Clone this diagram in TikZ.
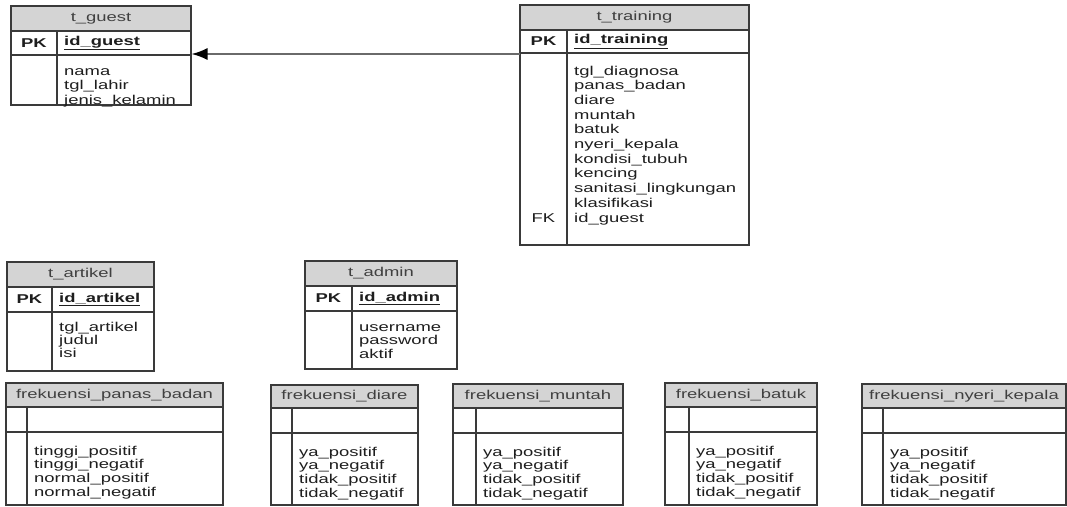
\documentclass[tikz,border=0pt]{standalone}
\usepackage{fontspec}
\setmainfont{Liberation Sans}[FakeStretch=1.44]
\usetikzlibrary{arrows.meta}
\definecolor{titlefill}{HTML}{D4D4D4}
\definecolor{framecol}{HTML}{3A3A3A}
\definecolor{txtcol}{HTML}{1E1E1E}
\definecolor{relcol}{HTML}{6A6A6A}
\tikzset{
  frameline/.style={draw=framecol, line width=1.3pt},
  titletext/.style={inner sep=0pt, text=txtcol!85, font=\fontsize{12.8}{14.5}\selectfont},
  pktext/.style={inner sep=0pt, text=txtcol, font=\fontsize{12.8}{14.5}\selectfont\bfseries},
  fieldtext/.style={inner sep=0pt, text=txtcol, font=\fontsize{12.8}{14.5}\selectfont},
  relline/.style={draw=relcol, line width=1.8pt, -{Latex[length=16pt,width=12pt,color=black]}}
}
% name, x1, x2, ytop, ytitle, ypk, ybot, xdiv, title
\newcommand\erframe[9]{%
  \fill[titlefill] (#2,#4) rectangle (#3,#5);
  \draw[frameline] (#2,#5) -- (#3,#5);
  \draw[frameline] (#2,#6) -- (#3,#6);
  \draw[frameline] (#8,#5) -- (#8,#7);
  \draw[frameline] (#2,#4) rectangle (#3,#7);
  \node[titletext] (#1-title) at ({(#2+#3)/2},{(#4+#5)/2}) {#9};
}
% name, x, first baseline y, spacing, list
\newcommand\erfields[5]{%
  \foreach \fld [count=\i] in {#5}
    \node[fieldtext, anchor=base west] (#1-f\i) at (#2,{#3+(\i-1)*#4}) {\fld};
}
\begin{document}
\begin{tikzpicture}[x=1pt,y=-1pt]
\useasboundingbox (0,0) rectangle (1067,506);
\fill[white] (0,0) rectangle (1067,506);

% t_guest
\erframe{guest}{11}{191}{6}{31}{55}{105}{57}{t\_guest}
\node[pktext] (guest-pk) at (34,43) {PK};
\node[pktext, anchor=west] (guest-id) at (64,43) {\underline{id\_guest}};
\erfields{guest}{64}{75}{14.5}{nama,tgl\_lahir,jenis\_kelamin}

% t_training
\erframe{training}{520}{749}{5}{30}{53}{245}{567}{t\_training}
\node[pktext] (training-pk) at (543.5,41.5) {PK};
\node[pktext, anchor=west] (training-id) at (574,41.5) {\underline{id\_training}};
\erfields{training}{574}{75}{14.7}{tgl\_diagnosa,panas\_badan,diare,muntah,batuk,nyeri\_kepala,kondisi\_tubuh,kencing,sanitasi\_lingkungan,klasifikasi,id\_guest}
\node[fieldtext, anchor=base] (training-fk) at (543.5,222) {FK};

% relation
\coordinate (trainrel) at (520,54);
\coordinate (guestrel) at (191.5,54);
\draw[relline] (trainrel) -- (guestrel);

% t_artikel
\erframe{artikel}{7}{154}{262}{287}{312}{371}{52}{t\_artikel}
\node[pktext] (artikel-pk) at (29.5,299.5) {PK};
\node[pktext, anchor=west] (artikel-id) at (59,299.5) {\underline{id\_artikel}};
\erfields{artikel}{59}{331}{13}{tgl\_artikel,judul,isi}

% t_admin
\erframe{admin}{305}{457}{261}{286}{311}{369}{352}{t\_admin}
\node[pktext] (admin-pk) at (328.5,298.5) {PK};
\node[pktext, anchor=west] (admin-id) at (359,298.5) {\underline{id\_admin}};
\erfields{admin}{359}{331}{13.5}{username,password,aktif}

% frekuensi tables
\erframe{panas}{6}{223}{383}{407}{432}{505}{27}{frekuensi\_panas\_badan}
\erfields{panas}{34}{455}{13.7}{tinggi\_positif,tinggi\_negatif,normal\_positif,normal\_negatif}

\erframe{diare}{271}{418}{385}{408}{433}{505}{292}{frekuensi\_diare}
\erfields{diare}{299}{456}{13.7}{ya\_positif,ya\_negatif,tidak\_positif,tidak\_negatif}

\erframe{muntah}{453}{623}{384}{408}{433}{505}{476}{frekuensi\_muntah}
\erfields{muntah}{483}{456}{13.7}{ya\_positif,ya\_negatif,tidak\_positif,tidak\_negatif}

\erframe{batuk}{665}{817}{383}{407}{432}{505}{689}{frekuensi\_batuk}
\erfields{batuk}{696}{455}{13.7}{ya\_positif,ya\_negatif,tidak\_positif,tidak\_negatif}

\erframe{nyeri}{862}{1066}{384}{408}{433}{505}{883}{frekuensi\_nyeri\_kepala}
\erfields{nyeri}{890}{456}{13.7}{ya\_positif,ya\_negatif,tidak\_positif,tidak\_negatif}
\end{tikzpicture}
\end{document}
